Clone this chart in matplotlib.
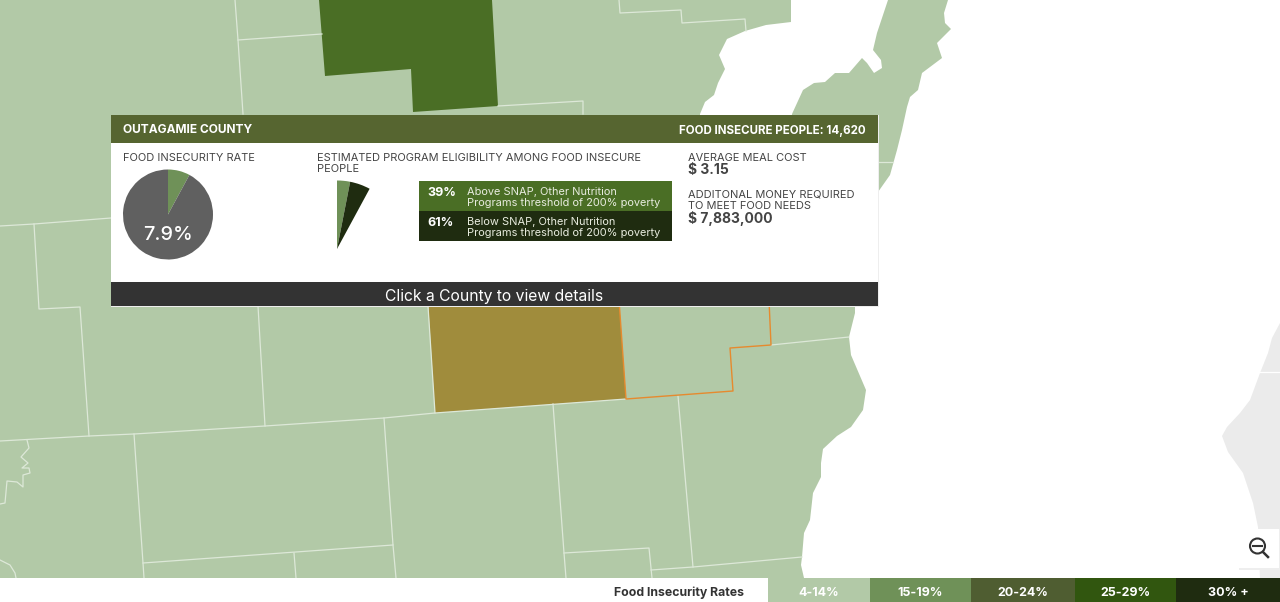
import matplotlib
matplotlib.use('Agg')
import matplotlib.pyplot as plt
from matplotlib.patches import Polygon, Rectangle, Circle

plt.rcParams['font.family'] = ['Inter', 'DejaVu Sans']

land_color = '#b2c9a7'
line_color = '#dde8d8'
dark_text = '#444444'

# chart values
county = 'OUTAGAMIE COUNTY'
insecure_people = 14620
insecurity_rate = 7.9
above_pct = 39
below_pct = 61
meal_cost = 3.15
extra_money = 7883000

legend_labels = ['4-14%', '15-19%', '20-24%', '25-29%', '30% +']
legend_colors = ['#b2c9a7', '#6f9158', '#4f5d31', '#31560f', '#1f2c10']
legend_edges = [768, 870, 971, 1075, 1176, 1280]

# map outlines, in screen pixels
land = [(0, 0), (791, 0), (791, 22), (766, 25), (745, 31), (727, 39), (719, 55), (725, 69),
        (718, 83), (714, 95), (705, 102), (700, 114), (700, 130), (790, 130), (792, 114),
        (803, 90), (814, 83), (825, 82), (835, 73), (849, 73), (862, 58), (867, 63), (874, 73),
        (882, 68), (881, 60), (873, 50), (877, 33), (883, 15), (888, 0), (948, 0), (944, 13),
        (945, 23), (951, 29), (937, 43), (942, 58), (922, 73), (918, 90), (910, 97), (907, 107),
        (902, 130), (897, 150), (890, 175), (878, 192), (855, 307), (855, 313), (849, 337),
        (851, 355), (866, 390), (863, 410), (851, 427), (837, 436), (823, 449), (821, 463),
        (821, 477), (813, 493), (810, 520), (804, 533), (802, 557), (801, 565), (804, 578), (0, 578)]
michigan = [(1280, 323), (1272, 338), (1268, 353), (1260, 373), (1250, 400), (1240, 413), (1227, 427),
            (1222, 436), (1228, 452), (1243, 473), (1253, 503), (1258, 527), (1260, 578), (1280, 578)]
dark_county = [(319, 0), (325, 76), (411, 69), (413, 112), (498, 106), (492, 0)]
selected_county = [(428, 300), (435, 413), (626, 399), (619, 300)]
hover_line = [(619, 300), (626, 399), (733, 391), (730, 348), (771, 345), (769, 300)]
county_lines = [
    [(235, 0), (238, 40), (243, 114)],
    [(238, 40), (322, 34)],
    [(498, 106), (583, 101), (583, 114)],
    [(619, 0), (620, 13), (681, 10), (682, 23), (745, 19), (746, 31)],
    [(878, 162), (893, 162)],
    [(0, 226), (34, 224), (111, 218)],
    [(34, 224), (39, 309), (80, 307), (89, 436)],
    [(258, 306), (265, 426)],
    [(428, 306), (435, 413)],
    [(0, 441), (89, 436), (134, 434), (265, 426), (384, 418), (435, 413), (626, 399)],
    [(384, 418), (393, 545), (396, 578)],
    [(134, 434), (143, 563), (144, 578)],
    [(143, 563), (393, 545)],
    [(294, 553), (296, 578)],
    [(553, 404), (564, 553), (566, 578)],
    [(564, 553), (649, 548), (652, 578)],
    [(678, 396), (693, 567)],
    [(651, 570), (693, 567), (802, 557)],
    [(771, 345), (849, 337)],
    [(27, 440), (29, 448), (21, 457), (28, 463), (22, 468), (29, 468), (30, 473), (23, 475),
     (23, 487), (17, 482), (7, 481), (5, 503), (0, 504)],
    [(0, 560), (10, 565), (15, 573), (16, 578)],
]
michigan_line = [(1260, 372), (1280, 372)]

fig = plt.figure(figsize=(12.8, 6.02), dpi=100)
ax = fig.add_axes([0, 0, 1, 1])

ax.add_patch(Polygon(michigan, closed=True, fc='#ebebeb', ec='none', zorder=1))
ax.add_patch(Polygon(land, closed=True, fc=land_color, ec='none', zorder=1))
ax.add_patch(Polygon(dark_county, closed=True, fc='#4a6e25', ec='none', zorder=1.2))
ax.add_patch(Polygon(selected_county, closed=True, fc='#a08c3c', ec='none', zorder=1.2))

for pts in county_lines:
    ax.plot([p[0] for p in pts], [p[1] for p in pts], color=line_color, lw=0.9, zorder=1.5)
ax.plot([p[0] for p in michigan_line], [p[1] for p in michigan_line], color='white', lw=0.9, zorder=1.5)
ax.plot([p[0] for p in hover_line], [p[1] for p in hover_line], color='#e68a2e', lw=1.0, zorder=1.6)

# popup panel
ax.add_patch(Rectangle((110.5, 114.5), 768, 192, fc='#eeeeee', ec='none', zorder=3))
ax.add_patch(Rectangle((111, 115), 767, 191, fc='white', ec='none', zorder=3.1))
ax.add_patch(Rectangle((111, 115), 767, 28, fc='#566530', ec='none', zorder=3.2))
ax.add_patch(Rectangle((111, 282), 767, 24, fc='#333333', ec='none', zorder=3.2))

ax.text(123, 130, county, color='white', fontsize=8.6, fontweight='bold', va='center', zorder=6)
ax.text(866, 131, f'FOOD INSECURE PEOPLE: {insecure_people:,}', color='white', fontsize=8.3,
        fontweight='bold', va='center', ha='right', zorder=6)
ax.text(494.5, 296.5, 'Click a County to view details', color='white', fontsize=11.3, va='center',
        ha='center', zorder=6)


def label(x, y, s, size=7.93, weight='normal', color=dark_text):
    ax.text(x, y + 1, s, color=color, fontsize=size, fontweight=weight, va='center', zorder=6)


label(123, 157, 'FOOD INSECURITY RATE')
label(317, 157, 'ESTIMATED PROGRAM ELIGIBILITY AMONG FOOD INSECURE')
label(317, 168, 'PEOPLE')
label(688, 157, 'AVERAGE MEAL COST')
label(688, 169, f'$ {meal_cost:.2f}', size=10, weight='bold')
label(688, 194, 'ADDITONAL MONEY REQUIRED')
label(688, 205, 'TO MEET FOOD NEEDS')
label(688, 217, f'$ {extra_money:,}', size=10, weight='bold')

# y axis runs downward, so counterclock + start -90 draws clockwise from the top
ax.pie([insecurity_rate, 100 - insecurity_rate], colors=['#6f9158', '#606060'], center=(168, 214.5),
       radius=45, startangle=-90, counterclock=True, frame=True, wedgeprops={'zorder': 4, 'lw': 0})
ax.text(168, 234.5, f'{insecurity_rate}%', color='white', fontsize=14.3, fontweight='medium', ha='center',
        va='center', zorder=6)

rate_share = insecurity_rate / 100
ax.pie([rate_share * above_pct / 100, rate_share * below_pct / 100], colors=['#6f9158', '#1f2c10'],
       center=(337, 249), radius=68.5, startangle=-90, counterclock=True, normalize=False, frame=True,
       wedgeprops={'zorder': 4, 'lw': 0})

ax.add_patch(Rectangle((419, 181), 253, 30, fc='#4a6e25', ec='none', zorder=4))
ax.add_patch(Rectangle((419, 211), 253, 29.5, fc='#1f2c10', ec='none', zorder=4))
label(427, 192.5, f'{above_pct}%', size=9, weight='bold', color='white')
label(427, 222.5, f'{below_pct}%', size=9, weight='bold', color='white')
label(467, 191, 'Above SNAP, Other Nutrition', size=7.92, color='#e8ecdf')
label(467, 202, 'Programs threshold of 200% poverty', size=7.92, color='#e8ecdf')
label(467, 221, 'Below SNAP, Other Nutrition', size=7.92, color='#e8ecdf')
label(467, 232, 'Programs threshold of 200% poverty', size=7.92, color='#e8ecdf')

# bottom legend
ax.add_patch(Rectangle((0, 578), 1280, 24, fc='white', ec='none', zorder=3))
for i, (name, col) in enumerate(zip(legend_labels, legend_colors)):
    left, right = legend_edges[i], legend_edges[i + 1]
    ax.add_patch(Rectangle((left, 578), right - left, 24, fc=col, ec='none', zorder=4))
    ax.text((left + right) / 2, 593, name, color='white', fontsize=9, fontweight='bold', ha='center',
            va='center', zorder=6)
ax.text(678.5, 593, 'Food Insecurity Rates', color='#333333', fontsize=8.85, fontweight='bold', ha='center',
        va='center', zorder=6)

# zoom out button
ax.add_patch(Rectangle((1238.5, 528.5), 41.5, 41, fc='#eeeeee', ec='none', zorder=3))
ax.add_patch(Rectangle((1239, 529), 40, 39, fc='white', ec='none', zorder=3.1))
ax.add_patch(Circle((1257.5, 546), 7.5, fc='none', ec='#333333', lw=1.5, zorder=5))
ax.plot([1253, 1262], [546, 546], color='#333333', lw=1.5, zorder=5)
ax.plot([1263, 1268], [552, 557], color='#333333', lw=1.8, zorder=5)

ax.set_xlim(0, 1280)
ax.set_ylim(602, 0)
ax.set_aspect('auto')
ax.axis('off')

fig.savefig('out.png', dpi=100, facecolor='white')
